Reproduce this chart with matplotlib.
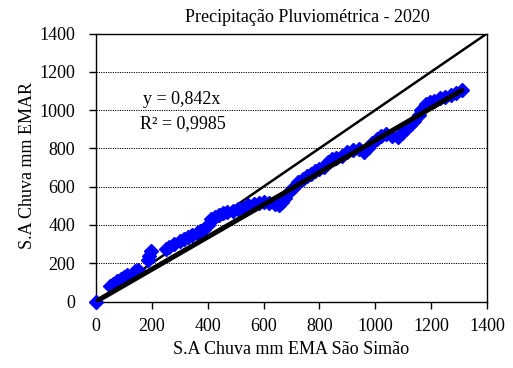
import matplotlib
matplotlib.use("Agg")
import matplotlib.pyplot as plt
import numpy as np

# Cumulative rainfall (mm): EMA São Simão (x) vs EMAR (y)
ema_sao_simao = [0, 50, 62, 75, 88, 100, 112, 140, 150, 185, 190, 196, 250, 262, 280,
                 300, 315, 330, 345, 360, 372, 385, 400, 412, 425, 440, 455, 470, 490,
                 510, 525, 545, 565, 585, 600, 620, 640, 655, 665, 675, 690, 705, 715,
                 725, 740, 755, 770, 785, 800, 815, 830, 845, 860, 880, 900, 920, 940,
                 960, 975, 990, 1005, 1020, 1040, 1060, 1080, 1095, 1110, 1125, 1140,
                 1155, 1165, 1180, 1195, 1210, 1230, 1250, 1270, 1290, 1310]
emar = [0, 80, 90, 105, 115, 130, 140, 160, 165, 215, 240, 265, 275, 285, 300,
        315, 325, 335, 345, 360, 370, 380, 400, 430, 440, 450, 460, 465, 475,
        485, 490, 505, 510, 515, 520, 515, 510, 505, 520, 540, 570, 595, 610,
        625, 640, 655, 665, 680, 690, 705, 730, 745, 750, 760, 780, 790, 795,
        780, 800, 830, 850, 865, 875, 865, 860, 880, 900, 920, 945,
        975, 1000, 1030, 1040, 1050, 1065, 1070, 1080, 1090, 1105]

slope = 0.842
r_squared = 0.9985
axis_ticks = [0, 200, 400, 600, 800, 1000, 1200, 1400]

plt.rcParams['font.family'] = ['Liberation Serif', 'DejaVu Serif']

W, H = 513, 368
left, right, top, bottom = 96, 487, 33.5, 301.5

fig = plt.figure(figsize=(W / 100, H / 100), dpi=100)
ax = fig.add_axes([left / W, 1 - bottom / H, (right - left) / W, (bottom - top) / H])

ax.set_xlim(0, 1400)
ax.set_ylim(0, 1400)

# horizontal dotted grid
for t in axis_ticks[1:-1]:
    ax.axhline(t, color='black', linewidth=0.7, linestyle=(0, (1.2, 1.2)), zorder=1)

# 1:1 reference line
ax.plot([0, 1400], [0, 1400], color='black', linewidth=1.8, zorder=2)

# observations
ax.plot(ema_sao_simao, emar, linestyle='none', marker='D', markersize=7.5,
        color='#0000FF', markeredgecolor='#0000FF', zorder=3, clip_on=False)

# linear trend through origin
xt = np.array([0, max(ema_sao_simao)])
ax.plot(xt, slope * xt, color='black', linewidth=3.6, solid_capstyle='round', zorder=4)

ax.set_xticks(axis_ticks)
ax.set_yticks(axis_ticks)
ax.tick_params(axis='both', direction='out', length=5, width=1, labelsize=13)
ax.tick_params(axis='x', pad=7)
ax.tick_params(axis='y', pad=10)
for s in ax.spines.values():
    s.set_linewidth(1.0)

ax.set_xlabel('S.A Chuva mm EMA São Simão', fontsize=13)
ax.set_ylabel('S.A Chuva mm EMAR', fontsize=13)
ax.xaxis.set_label_coords(0.5, (bottom - 350) / (bottom - top))
ax.xaxis.label.set_va('center')
ax.yaxis.set_label_coords((28 - left) / (right - left), 0.506)
ax.yaxis.label.set_va('center')

fig.text(307 / W, 1 - 18 / H, 'Precipitação Pluviométrica - 2020',
         ha='center', va='center', fontsize=13)

eq = 'y = ' + f'{slope:.3f}'.replace('.', ',') + 'x'
r2 = 'R² = ' + f'{r_squared:.4f}'.replace('.', ',')
fig.text(182 / W, 1 - 100 / H, eq, ha='center', va='center', fontsize=13)
fig.text(183 / W, 1 - 124 / H, r2, ha='center', va='center', fontsize=13)

fig.savefig('out.png', dpi=100)
